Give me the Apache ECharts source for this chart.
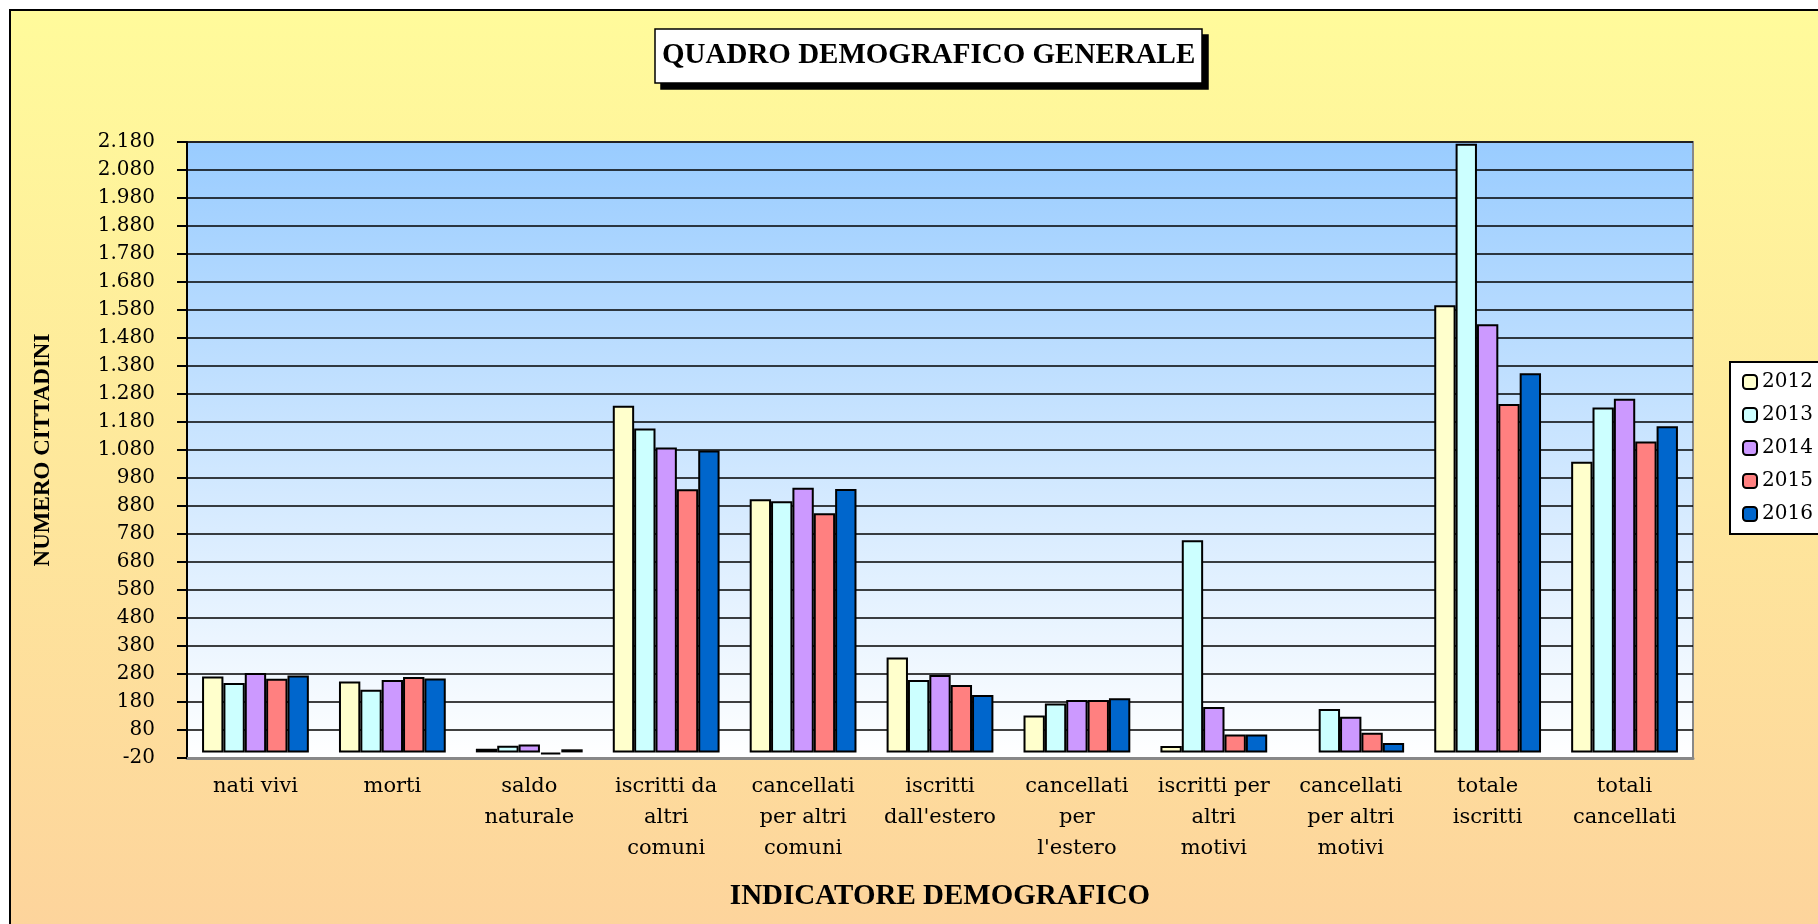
<!DOCTYPE html>
<html lang="it">
<head>
<meta charset="UTF-8">
<title>Quadro demografico generale</title>
<style>
    html, body { margin: 0; padding: 0; width: 1818px; height: 924px; overflow: hidden; background: #fff; }
    .frame { position: absolute; left: 9px; top: 9px; width: 1830px; height: 940px; border: 2px solid #000; background: linear-gradient(#FFFB9B, #FDD39C); }
    #chart { position: absolute; left: 0; top: 0; width: 1818px; height: 924px; }
</style>
</head>
<body>
<div class="frame"></div>
<div id="chart"></div>
<script src="https://cdn.jsdelivr.net/npm/echarts/dist/echarts.min.js"></script>
<script>
    // indicatori (asse x)
    var categories = ['nati vivi', 'morti', 'saldo\nnaturale', 'iscritti da\naltri\ncomuni',
        'cancellati\nper altri\ncomuni', 'iscritti\ndall\'estero', 'cancellati\nper\nl\'estero',
        'iscritti per\naltri\nmotivi', 'cancellati\nper altri\nmotivi', 'totale\niscritti', 'totali\ncancellati'];

    var years = ['2012', '2013', '2014', '2015', '2016'];
    var colors = ['#FFFFCC', '#CCFFFF', '#CC99FF', '#FF8080', '#0066CC'];

    // valori
    var v2012 = [271, 253, 13, 1238, 904, 339, 132, 23, '-', 1597, 1038];
    var v2013 = [248, 224, 24, 1157, 897, 259, 175, 758, 155, 2174, 1232];
    var v2014 = [284, 259, 28, 1089, 945, 276, 187, 162, 127, 1529, 1263];
    var v2015 = [263, 269, -7, 940, 854, 241, 187, 64, 70, 1244, 1110];
    var v2016 = [275, 264, 11, 1078, 941, 205, 193, 64, 34, 1354, 1165];
    var values = [v2012, v2013, v2014, v2015, v2016];

    var titleText = 'QUADRO DEMOGRAFICO GENERALE';
    var serif = 'DejaVu Serif';
    var titleFont = 'Liberation Serif';

    function fmt(v) {
        if (Math.abs(v) >= 1000) {
            var s = String(Math.abs(v) % 1000);
            while (s.length < 3) s = '0' + s;
            return (v < 0 ? '-' : '') + Math.floor(Math.abs(v) / 1000) + '.' + s;
        }
        return String(v);
    }

    var series = years.map(function (y, i) {
        return {
            name: y,
            type: 'bar',
            data: values[i],
            barGap: '0%',
            barCategoryGap: '22%',
            itemStyle: {
                color: colors[i],
                borderColor: '#000',
                borderWidth: 2
            }
        };
    });

    var titleTextStyle = {
        fontFamily: titleFont,
        fontWeight: 'bold',
        fontSize: 29,
        lineHeight: 34,
        color: '#000'
    };

    var chart = echarts.init(document.getElementById('chart'));

    var option = {
        backgroundColor: 'transparent',
        animation: false,
        title: [{
            // ombra del riquadro del titolo
            text: titleText,
            left: 661,
            top: 35,
            z: 5,
            padding: [10, 7],
            backgroundColor: '#000',
            borderColor: '#000',
            borderWidth: 1.5,
            textStyle: Object.assign({}, titleTextStyle, { color: 'rgba(0,0,0,0)' })
        }, {
            text: titleText,
            left: 655,
            top: 29,
            z: 6,
            padding: [10, 7],
            backgroundColor: '#fff',
            borderColor: '#000',
            borderWidth: 1.5,
            textStyle: titleTextStyle
        }],
        legend: {
            orient: 'vertical',
            left: 1730,
            top: 362,
            backgroundColor: '#fff',
            borderColor: '#000',
            borderWidth: 2,
            padding: [10, 30, 10, 12],
            itemWidth: 14,
            itemHeight: 14,
            itemGap: 13,
            textStyle: { fontFamily: serif, fontSize: 20, color: '#000' },
            data: years
        },
        grid: {
            left: 187,
            right: 125,
            top: 142,
            bottom: 166,
            show: true,
            borderColor: '#888',
            borderWidth: 2,
            backgroundColor: new echarts.graphic.LinearGradient(0, 0, 0, 1, [
                { offset: 0, color: '#99CCFF' },
                { offset: 1, color: '#FFFFFF' }
            ])
        },
        xAxis: {
            type: 'category',
            data: categories,
            name: 'INDICATORE DEMOGRAFICO',
            nameLocation: 'middle',
            nameGap: 124,
            nameTextStyle: { fontFamily: titleFont, fontWeight: 'bold', fontSize: 29, color: '#000' },
            axisLine: { onZero: false, lineStyle: { color: '#888', width: 3 } },
            axisTick: { length: 6, lineStyle: { color: '#000', width: 2 } },
            axisLabel: {
                interval: 0,
                margin: 13,
                fontFamily: serif,
                fontSize: 21,
                lineHeight: 31,
                color: '#000'
            }
        },
        yAxis: {
            type: 'value',
            min: -20,
            max: 2180,
            interval: 100,
            name: 'NUMERO CITTADINI',
            nameLocation: 'middle',
            nameGap: 132,
            nameTextStyle: { fontFamily: titleFont, fontWeight: 'bold', fontSize: 23, color: '#000' },
            axisLine: { show: true, lineStyle: { color: '#000', width: 2 } },
            axisTick: { show: true, length: 10, lineStyle: { color: '#000', width: 2 } },
            axisLabel: {
                margin: 32,
                fontFamily: serif,
                fontSize: 20,
                color: '#000',
                formatter: fmt
            },
            splitLine: { lineStyle: { color: '#000', width: 1.5 } }
        },
        series: series
    };

    chart.setOption(option);
</script>
</body>
</html>
